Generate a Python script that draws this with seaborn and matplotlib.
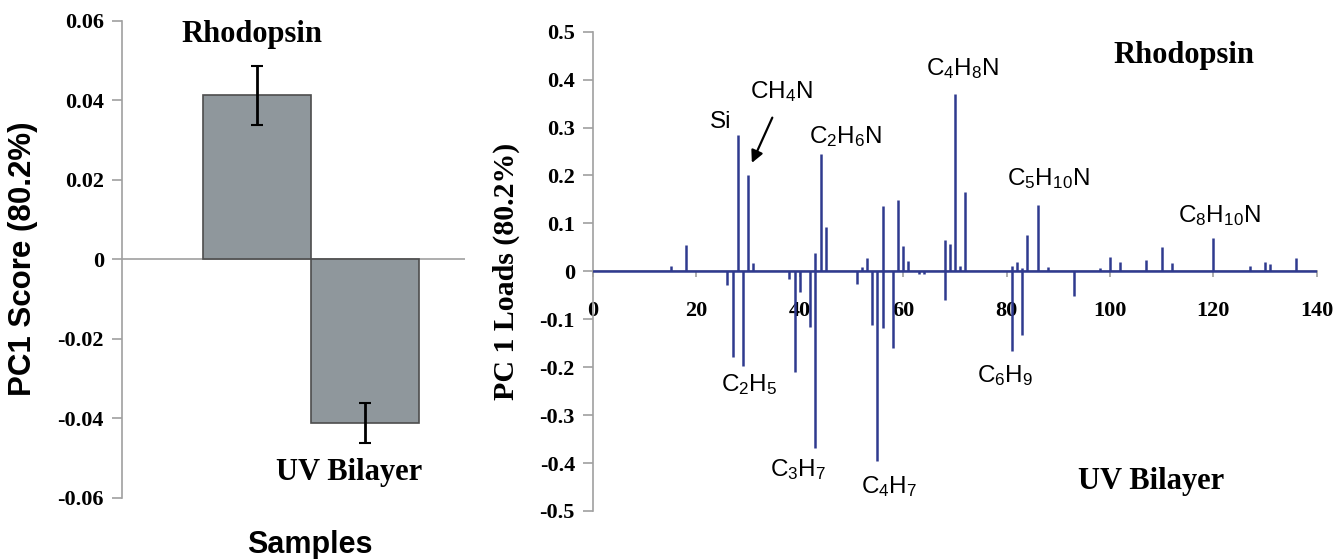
import matplotlib
matplotlib.use("Agg")
import matplotlib.pyplot as plt
from matplotlib.ticker import FuncFormatter
import seaborn as sns
import pandas as pd

# ---------------- data ----------------
samples = ["Rhodopsin", "UV Bilayer"]
pc1_scores = [0.0412, -0.0413]
pc1_errors = [0.0075, 0.0050]

masses = [15, 18, 26, 27, 28, 29, 30, 31, 38, 39, 40, 42, 43, 43, 44, 45,
          51, 52, 53, 54, 55, 56, 56, 58, 59, 60, 61, 63, 64, 68, 68, 69,
          70, 71, 72, 81, 81, 82, 83, 83, 84, 86, 88, 93, 98, 100, 102,
          107, 110, 112, 120, 127, 130, 131, 136]
loads = [0.012, 0.055, -0.028, -0.179, 0.285, -0.198, 0.202, 0.018, -0.015,
         -0.210, -0.043, -0.116, 0.039, -0.369, 0.244, 0.092, -0.026, 0.009,
         0.028, -0.113, -0.396, 0.136, -0.118, -0.159, 0.148, 0.053, 0.021,
         -0.006, -0.005, 0.065, -0.059, 0.058, 0.370, 0.012, 0.165, 0.011,
         -0.167, 0.020, 0.008, -0.133, 0.076, 0.138, 0.010, -0.051, 0.008,
         0.029, 0.020, 0.024, 0.050, 0.017, 0.069, 0.012, 0.020, 0.015, 0.027]

peak_labels = ["Si", "CH$_4$N", "C$_2$H$_6$N", "C$_4$H$_8$N", "C$_5$H$_{10}$N",
               "C$_8$H$_{10}$N", "C$_2$H$_5$", "C$_3$H$_7$", "C$_4$H$_7$", "C$_6$H$_9$"]
peak_label_x = [24.6, 36.4, 48.9, 71.5, 88.0, 121.2, 30.2, 39.6, 57.3, 79.8]
peak_label_y = [0.312, 0.375, 0.281, 0.423, 0.193, 0.116, -0.236, -0.413, -0.449, -0.218]

left_yticks = [-0.06, -0.04, -0.02, 0, 0.02, 0.04, 0.06]
right_yticks = [-0.5, -0.4, -0.3, -0.2, -0.1, 0, 0.1, 0.2, 0.3, 0.4, 0.5]
right_xticks = [0, 20, 40, 60, 80, 100, 120, 140]

# ---------------- style ----------------
sns.set_theme(style="white")
plt.rcParams["font.family"] = ["Liberation Serif", "DejaVu Serif"]
plt.rcParams["axes.unicode_minus"] = False
plt.rcParams["mathtext.fontset"] = "custom"
plt.rcParams["mathtext.rm"] = "Liberation Sans"
plt.rcParams["mathtext.it"] = "Liberation Sans:italic"
plt.rcParams["mathtext.bf"] = "Liberation Sans:bold"
plt.rcParams["text.color"] = "black"
plt.rcParams["axes.labelcolor"] = "black"
plt.rcParams["xtick.labelcolor"] = "black"
plt.rcParams["ytick.labelcolor"] = "black"

NAVY = "#2f3a8f"
GRAY_AX = "#a0a0a0"
BAR_GRAY = "#8f979c"

fig = plt.figure(figsize=(13.39, 5.59), dpi=100)
axL = fig.add_axes([0.0911, 0.110, 0.2562, 0.853])
axR = fig.add_axes([0.4429, 0.0859, 0.5405, 0.8574])

# ---------------- left panel ----------------
df = pd.DataFrame({"sample": samples, "score": pc1_scores})
sns.barplot(data=df, x="sample", y="score", ax=axL, color=BAR_GRAY,
            saturation=1, width=1.0, edgecolor="#4d4d4d", linewidth=1.2,
            errorbar=None)
axL.errorbar(range(len(samples)), pc1_scores, yerr=pc1_errors, fmt="none",
             ecolor="black", elinewidth=2, capsize=4, capthick=1.5, zorder=5)
axL.axhline(0, color=GRAY_AX, lw=1.2, zorder=0)
axL.set_xlim(-1.245, 1.925)
axL.set_ylim(-0.06, 0.06)
axL.set_yticks(left_yticks)
axL.yaxis.set_major_formatter(FuncFormatter(lambda v, p: "0" if abs(v) < 1e-9 else f"{v:.2f}"))
axL.set_xticks([])
for s in ["top", "right", "bottom"]:
    axL.spines[s].set_visible(False)
axL.spines["left"].set_color(GRAY_AX)
axL.spines["left"].set_linewidth(1.2)
axL.tick_params(axis="y", direction="out", length=7, width=1.2, color=GRAY_AX,
                labelcolor="black", labelsize=16, pad=6, left=True)
for t in axL.get_yticklabels():
    t.set_fontweight("bold")
axL.set_xlabel("")
axL.set_ylabel("PC1 Score (80.2%)", family=["Liberation Sans"], fontsize=22.5,
               fontweight="bold", labelpad=14, color="black")
axL.text(-0.04, 0.0565, "Rhodopsin", ha="center", va="center", fontsize=22,
         fontweight="bold", color="black")
axL.text(0.85, -0.0537, "UV Bilayer", ha="center", va="center", fontsize=22,
         fontweight="bold", color="black")
fig.text(310 / 1339, 1 - 545 / 559, "Samples", ha="center", va="center",
         family=["Liberation Sans"], fontsize=22, fontweight="bold", color="black")

# ---------------- right panel ----------------
axR.vlines(masses, 0, loads, color=NAVY, lw=1.8, zorder=3)
axR.axhline(0, color=NAVY, lw=1.8, zorder=3)
axR.set_xlim(0, 140)
axR.set_ylim(-0.5, 0.5)
axR.set_yticks(right_yticks)
axR.set_xticks(right_xticks)
axR.yaxis.set_major_formatter(FuncFormatter(lambda v, p: "0" if abs(v) < 1e-9 else f"{v:.1f}"))
axR.xaxis.set_major_formatter(FuncFormatter(lambda v, p: f"{v:.0f}"))
for s in ["top", "right"]:
    axR.spines[s].set_visible(False)
axR.spines["bottom"].set_position(("data", 0))
axR.spines["bottom"].set_color(GRAY_AX)
axR.spines["left"].set_color(GRAY_AX)
axR.spines["left"].set_linewidth(1.2)
axR.tick_params(axis="y", direction="out", length=7, width=1.2, color=GRAY_AX,
                labelcolor="black", labelsize=16, pad=6, left=True)
axR.tick_params(axis="x", direction="out", length=4, width=1.2, color=GRAY_AX,
                labelcolor="black", labelsize=16, pad=17, bottom=True)
for t in axR.get_yticklabels() + axR.get_xticklabels():
    t.set_fontweight("bold")
axR.set_ylabel("PC 1 Loads (80.2%)", fontsize=21.5, fontweight="bold",
               labelpad=14, color="black")

for lab, x, y in zip(peak_labels, peak_label_x, peak_label_y):
    axR.text(x, y, lab, ha="center", va="center", fontsize=17.5,
             family=["Liberation Sans"], color="black", zorder=4)
axR.annotate("", xy=(30.5, 0.221), xytext=(34.9, 0.326),
             arrowprops=dict(arrowstyle="-|>", color="black", lw=1.6,
                             mutation_scale=18))
axR.text(114.3, 0.450, "Rhodopsin", ha="center", va="center", fontsize=22,
         fontweight="bold", color="black")
axR.text(107.9, -0.438, "UV Bilayer", ha="center", va="center", fontsize=22,
         fontweight="bold", color="black")

fig.savefig("out.png", dpi=100)
